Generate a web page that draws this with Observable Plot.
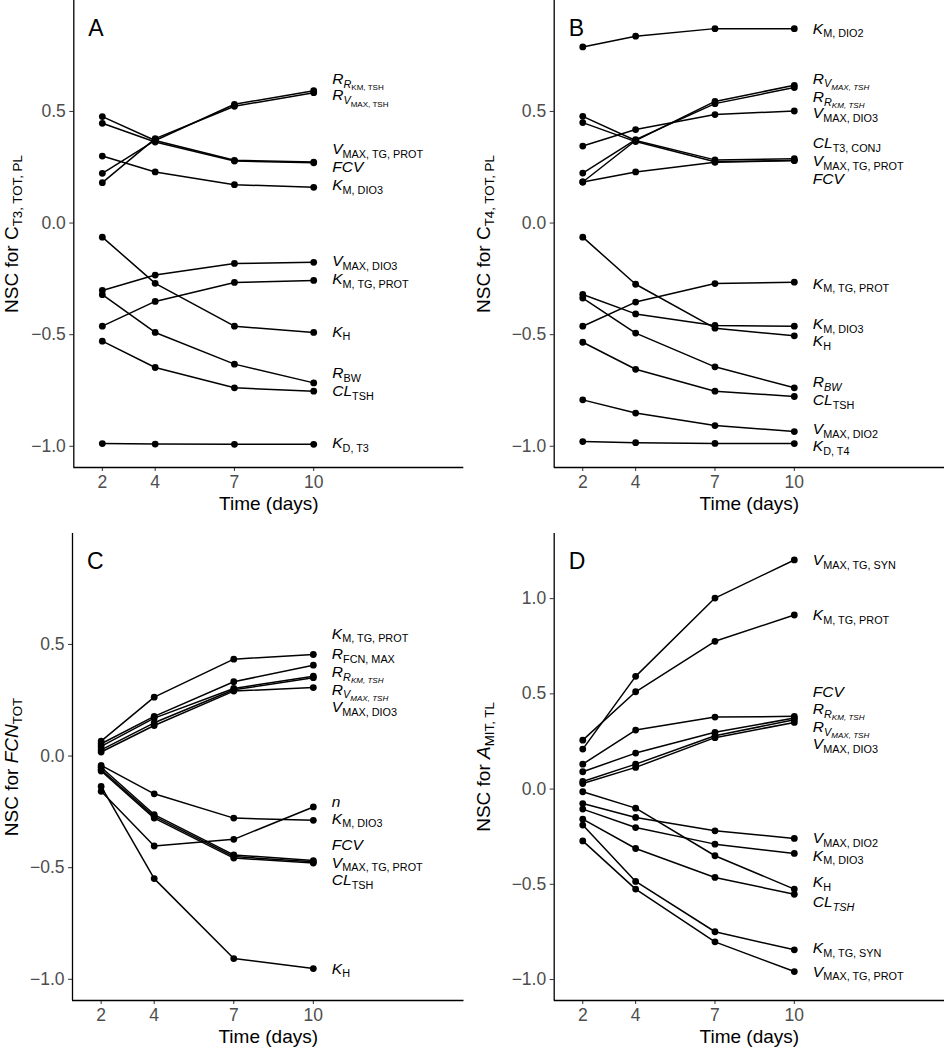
<!DOCTYPE html>
<html><head><meta charset="utf-8">
<script src="https://cdn.jsdelivr.net/npm/d3@7"></script>
<script src="https://cdn.jsdelivr.net/npm/@observablehq/plot@0.6"></script>
<style>
html,body{margin:0;padding:0;background:#fff;overflow:hidden}
#wrap{position:relative;width:944px;height:1050px;overflow:hidden;background:#fff}
#wrap svg{position:absolute;background:transparent}
#wrap g[aria-label="x-axis label"],#wrap g[aria-label="y-axis label"]{font-size:19px;fill:#000}
#wrap g[aria-label$="tick label"]{fill:#4d4d4d}
#wrap g[aria-label="x-axis tick"],#wrap g[aria-label="y-axis tick"]{stroke:#333}
</style></head><body><div id="wrap"></div>
<script>
// ---------- data ----------
const days = [2, 4, 7, 10];
const xTicks = [2, 4, 7, 10];
const yTicksABC = [-1, -0.5, 0, 0.5];
const yTicksD = [-1, -0.5, 0, 0.5, 1];
const panelLetters = ["A", "B", "C", "D"];
const xTitle = "Time (days)";
const yTitles = ["NSC for C_{T3, TOT, PL}", "NSC for C_{T4, TOT, PL}", "NSC for *FCN*_{TOT}", "NSC for *A*_{MIT, TL}"];

// Panel A
const paramsA = ["*R*_{*R*_{KM, TSH}}", "*R*_{*V*_{MAX, TSH}}", "*V*_{MAX, TG, PROT}", "*FCV*", "*K*_{M, DIO3}",
  "*V*_{MAX, DIO3}", "*K*_{M, TG, PROT}", "*K*_{H}", "*R*_{BW}", "*CL*_{TSH}", "*K*_{D, T3}"];
const valuesA = [
  [0.223, 0.370, 0.532, 0.593], [0.181, 0.378, 0.523, 0.584], [0.477, 0.370, 0.281, 0.273],
  [0.447, 0.363, 0.278, 0.270], [0.300, 0.229, 0.172, 0.160], [-0.302, -0.233, -0.181, -0.176],
  [-0.462, -0.351, -0.266, -0.257], [-0.063, -0.270, -0.462, -0.490], [-0.321, -0.490, -0.632, -0.716],
  [-0.529, -0.647, -0.738, -0.753], [-0.988, -0.990, -0.991, -0.991]];
const labelYA = [0.644, 0.572, 0.330, 0.251, 0.169, -0.170, -0.251, -0.486, -0.671, -0.753, -0.987];

// Panel B
const paramsB = ["*K*_{M, DIO2}", "*R_{V_{MAX, TSH}}*", "*R_{R_{KM, TSH}}*", "*V*_{MAX, DIO3}", "*CL*_{T3, CONJ}",
  "*V*_{MAX, TG, PROT}", "*FCV*", "*K*_{M, TG, PROT}", "*K*_{M, DIO3}", "*K*_{H}", "*R_{BW}*", "*CL*_{TSH}",
  "*V*_{MAX, DIO2}", "*K*_{D, T4}"];
const valuesB = [
  [0.789, 0.837, 0.871, 0.871], [0.184, 0.370, 0.545, 0.617], [0.224, 0.374, 0.535, 0.607],
  [0.345, 0.419, 0.486, 0.502], [0.184, 0.229, 0.272, 0.280], [0.478, 0.370, 0.283, 0.288],
  [0.450, 0.365, 0.275, 0.280], [-0.462, -0.354, -0.271, -0.265], [-0.320, -0.407, -0.459, -0.462],
  [-0.063, -0.274, -0.471, -0.505], [-0.336, -0.493, -0.644, -0.738], [-0.534, -0.655, -0.753, -0.777],
  [-0.792, -0.851, -0.907, -0.934], [-0.979, -0.984, -0.987, -0.988]];
const labelYB = [0.871, 0.647, 0.565, 0.493, 0.359, 0.278, 0.196, -0.272, -0.454, -0.529, -0.713, -0.792, -0.922, -1.0];

// Panel C
const paramsC = ["*K*_{M, TG, PROT}", "*R*_{FCN, MAX}", "*R_{R_{KM, TSH}}*", "*R_{V_{MAX, TSH}}*", "*V*_{MAX, DIO3}",
  "*n*", "*K*_{M, DIO3}", "*FCV*", "*V*_{MAX, TG, PROT}", "*CL*_{TSH}", "*K*_{H}"];
const valuesC = [
  [0.067, 0.264, 0.434, 0.455], [0.055, 0.178, 0.333, 0.407], [0.043, 0.170, 0.303, 0.358],
  [0.028, 0.149, 0.297, 0.351], [0.018, 0.137, 0.291, 0.307], [-0.158, -0.403, -0.373, -0.228],
  [-0.042, -0.169, -0.278, -0.288], [-0.050, -0.262, -0.443, -0.468], [-0.060, -0.270, -0.450, -0.474],
  [-0.067, -0.278, -0.457, -0.479], [-0.136, -0.549, -0.907, -0.952]];
const labelYC = [0.548, 0.458, 0.376, 0.297, 0.219, -0.206, -0.281, -0.400, -0.478, -0.557, -0.952];

// Panel D
const paramsD = ["*V*_{MAX, TG, SYN}", "*K*_{M, TG, PROT}", "*FCV*", "*R_{R_{KM, TSH}}*", "*R_{V_{MAX, TSH}}*",
  "*V*_{MAX, DIO3}", "*V*_{MAX, DIO2}", "*K*_{M, DIO3}", "*K*_{H}", "*CL_{TSH}*", "*K*_{M, TG, SYN}", "*V*_{MAX, TG, PROT}"];
const valuesD = [
  [0.210, 0.592, 1.003, 1.203], [0.257, 0.511, 0.776, 0.914], [0.131, 0.310, 0.378, 0.382],
  [0.091, 0.189, 0.298, 0.373], [0.040, 0.131, 0.280, 0.364], [0.029, 0.114, 0.270, 0.350],
  [-0.076, -0.149, -0.219, -0.259], [-0.105, -0.202, -0.289, -0.338], [-0.014, -0.100, -0.350, -0.525],
  [-0.158, -0.312, -0.464, -0.552], [-0.189, -0.485, -0.749, -0.844], [-0.272, -0.525, -0.802, -0.958]];
const labelYD = [1.203, 0.914, 0.511, 0.420, 0.327, 0.236, -0.259, -0.350, -0.490, -0.595, -0.837, -0.958];

// ---------- layout ----------
const FONT = "'Liberation Sans', Arial, Helvetica, sans-serif";
const xDomain = [0.92, 15.68];
const yDomainABC = [-1.095, 0.997];
const yDomainD = [-1.11, 1.342];
const panels = [
  {params: paramsA, values: valuesA, labelY: labelYA, yDomain: yDomainABC, yTicks: yTicksABC, left: 0, top: -8, marginLeft: 73.3, marginRight: 8.7},
  {params: paramsB, values: valuesB, labelY: labelYB, yDomain: yDomainABC, yTicks: yTicksABC, left: 472, top: -8, marginLeft: 81.7, marginRight: 0},
  {params: paramsC, values: valuesC, labelY: labelYC, yDomain: yDomainABC, yTicks: yTicksABC, left: 0, top: 525, marginLeft: 72, marginRight: 8.5},
  {params: paramsD, values: valuesD, labelY: labelYD, yDomain: yDomainD, yTicks: yTicksD, left: 472, top: 525, marginLeft: 81.7, marginRight: 0}
];

// ---------- rich text (italic + subscripts) ----------
const SUB_SIZE = [1, 0.7, 0.52];
const SUB_OFF = [0, 0.24, 0.4];
function parseRich(s) {
  const runs = [];
  function walk(i, level, italic) {
    let buf = "";
    const flush = () => { if (buf) { runs.push({text: buf, level, italic}); buf = ""; } };
    while (i < s.length) {
      const c = s[i];
      if (c === "*") { flush(); italic = !italic; i++; }
      else if (c === "_" && s[i + 1] === "{") { flush(); i = walk(i + 2, level + 1, italic); }
      else if (c === "}") { flush(); return i + 1; }
      else { buf += c; i++; }
    }
    flush();
    return i;
  }
  walk(0, 0, false);
  return runs;
}
function richify(root) {
  root.querySelectorAll("text").forEach(t => {
    const s = t.textContent;
    if (!/[_*]/.test(s)) return;
    const runs = parseRich(s);
    t.textContent = "";
    let cur = 0;
    for (const r of runs) {
      const ts = document.createElementNS("http://www.w3.org/2000/svg", "tspan");
      const f = SUB_SIZE[Math.min(r.level, 2)], off = SUB_OFF[Math.min(r.level, 2)];
      ts.setAttribute("font-size", (f * 100) + "%");
      if (off !== cur) ts.setAttribute("dy", ((off - cur) / f).toFixed(3) + "em");
      ts.setAttribute("font-style", r.italic ? "italic" : "normal");
      ts.textContent = r.text;
      t.appendChild(ts);
      cur = off;
    }
  });
}

// ---------- draw ----------
const wrap = document.getElementById("wrap");
panels.forEach((p, k) => {
  const rows = [];
  p.params.forEach((name, i) => p.values[i].forEach((v, j) => rows.push({param: name, day: days[j], value: v})));
  const lastDay = days[days.length - 1];
  const labels = p.params.map((name, i) => ({param: name, day: lastDay, y: p.labelY[i]}));
  const svg = Plot.plot({
    width: 472, height: 525,
    marginLeft: p.marginLeft, marginRight: p.marginRight, marginTop: 8, marginBottom: 50,
    style: {fontFamily: FONT, fontSize: "17.5px", color: "#000", background: "transparent", overflow: "visible"},
    x: {domain: xDomain, ticks: xTicks, tickFormat: d => String(d), tickSize: 4, tickPadding: 4,
        label: xTitle, labelAnchor: "center", labelArrow: "none", labelOffset: 42},
    y: {domain: p.yDomain, ticks: p.yTicks, tickFormat: d3.format(".1f"), tickSize: 4, tickPadding: 4,
        label: yTitles[k], labelAnchor: "center", labelArrow: "none", labelOffset: p.marginLeft - 3.5},
    marks: [
      Plot.ruleX([xDomain[0]], {stroke: "#000", strokeWidth: 1.3}),
      Plot.ruleY([p.yDomain[0]], {stroke: "#000", strokeWidth: 1.3}),
      Plot.line(rows, {x: "day", y: "value", z: "param", stroke: "#000", strokeWidth: 1.5}),
      Plot.dot(rows, {x: "day", y: "value", r: 3.4, fill: "#000", stroke: "none"}),
      Plot.text(labels, {x: "day", y: "y", text: "param", dx: 18.5, textAnchor: "start", lineAnchor: "middle", fontSize: 15.5, fill: "#000"}),
      Plot.text([panelLetters[k]], {text: d => d, frameAnchor: "top-left", dx: 14.5, dy: 19, lineAnchor: "top", textAnchor: "start", fontSize: 23, fill: "#000"})
    ]
  });
  svg.style.left = p.left + "px";
  svg.style.top = p.top + "px";
  svg.style.maxWidth = "none";
  wrap.appendChild(svg);
  richify(svg);
});
</script></body></html>
